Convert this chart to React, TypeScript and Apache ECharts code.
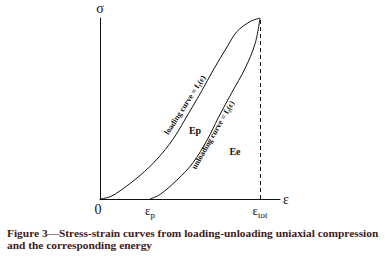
import React, { useEffect, useRef } from "react";
import * as echarts from "echarts";

const loadingCurve: [number, number][] = [
  [0, 0], [0.0625, 0.012], [0.125, 0.045], [0.25, 0.13], [0.356, 0.22],
  [0.456, 0.33], [0.525, 0.43], [0.6375, 0.6],
  [0.706, 0.71], [0.794, 0.84], [0.856, 0.925], [0.9375, 0.98], [1, 1],
];
const unloadingCurve: [number, number][] = [
  [0.3125, 0], [0.375, 0.025], [0.481, 0.105], [0.581, 0.2],
  [0.669, 0.325], [0.74, 0.45], [0.825, 0.59],
  [0.906, 0.72], [0.97, 0.86], [1, 1],
];
const tickValues = [0, 0.3125, 1];
const tickLabels = ["{n|0}", "{e|ε}{s|p}", "{e|ε}{s|tot}"];
const captionLines = [
  "Figure 3—Stress-strain curves from loading-unloading uniaxial compression",
  "and the corresponding energy",
];

const SERIF = "'Liberation Serif', 'DejaVu Serif', serif";

export default function App() {
  const ref = useRef<HTMLDivElement>(null);
  useEffect(() => {
    document.body.style.margin = "0";
    if (!ref.current) return;
    const chart = echarts.init(ref.current, undefined, { renderer: "svg" });
    chart.setOption({
      animation: false,
      backgroundColor: "#ffffff",
      grid: { left: 100, top: 18, width: 180, height: 181 },
      xAxis: {
        type: "value",
        min: 0,
        max: 1.125,
        name: "ε",
        nameLocation: "end",
        nameGap: 3,
        nameTextStyle: { fontFamily: SERIF, fontSize: 14, color: "#111", verticalAlign: "middle" },
        axisLine: { lineStyle: { color: "#111", width: 1 } },
        axisTick: { show: false },
        splitLine: { show: false },
        axisLabel: {
          customValues: tickValues,
          margin: 3,
          formatter: (v: number) => {
            const i = tickValues.findIndex((t) => Math.abs(t - v) < 1e-6);
            return i >= 0 ? tickLabels[i] : "";
          },
          rich: {
            n: { fontFamily: SERIF, fontSize: 14, color: "#111", padding: [0, 4, 0, 0] },
            e: { fontFamily: SERIF, fontSize: 13, color: "#111" },
            s: { fontFamily: SERIF, fontSize: 9, color: "#111", padding: [8, 0, 0, 0] },
          },
        },
      },
      yAxis: {
        type: "value",
        min: 0,
        max: 1,
        name: "σ",
        nameLocation: "end",
        nameGap: 3,
        nameTextStyle: { fontFamily: SERIF, fontSize: 14, color: "#111" },
        axisLine: { show: true, lineStyle: { color: "#111", width: 1 } },
        axisTick: { show: false },
        axisLabel: { show: false },
        splitLine: { show: false },
      },
      series: [
        {
          type: "line",
          data: loadingCurve,
          smooth: 0.35,
          symbol: "none",
          lineStyle: { color: "#111", width: 1 },
          markLine: {
            silent: true,
            symbol: "none",
            label: { show: false },
            lineStyle: { color: "#111", type: [4, 3], width: 1 },
            data: [[{ coord: [1, 0] }, { coord: [1, 1] }]],
          },
        },
        {
          type: "line",
          data: unloadingCurve,
          smooth: 0.35,
          symbol: "none",
          lineStyle: { color: "#111", width: 1 },
        },
      ],
      graphic: [
        {
          type: "text",
          x: 185,
          y: 105,
          rotation: (57 * Math.PI) / 180,
          style: {
            text: "loading curve = f\u2081(ε)",
            font: `bold 8px ${SERIF}`,
            fill: "#111",
            align: "center",
            verticalAlign: "middle",
          },
        },
        {
          type: "text",
          x: 213,
          y: 135,
          rotation: (60 * Math.PI) / 180,
          style: {
            text: "unloading curve = f\u2082(ε)",
            font: `bold 8px ${SERIF}`,
            fill: "#111",
            align: "center",
            verticalAlign: "middle",
          },
        },
        {
          type: "text",
          x: 195,
          y: 130,
          style: { text: "Ep", font: `bold 10px ${SERIF}`, fill: "#111", align: "center", verticalAlign: "middle" },
        },
        {
          type: "text",
          x: 235,
          y: 151,
          style: { text: "Ee", font: `bold 10px ${SERIF}`, fill: "#111", align: "center", verticalAlign: "middle" },
        },
        {
          type: "text",
          x: 7,
          y: 233,
          style: { text: captionLines[0], font: `bold 11.4px ${SERIF}`, fill: "#3f1a1a", verticalAlign: "middle" },
        },
        {
          type: "text",
          x: 7,
          y: 245,
          style: { text: captionLines[1], font: `bold 11.4px ${SERIF}`, fill: "#3f1a1a", verticalAlign: "middle" },
        },
      ],
    });
    return () => chart.dispose();
  }, []);
  return <div ref={ref} style={{ width: 389, height: 256 }} />;
}
